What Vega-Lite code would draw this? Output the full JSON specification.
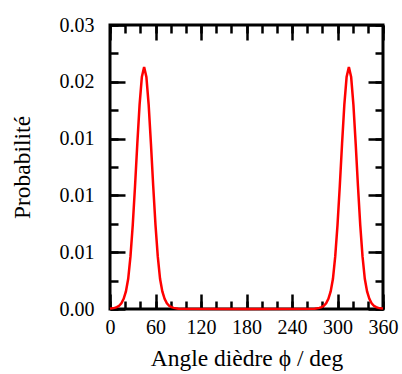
{
  "$schema": "https://vega.github.io/schema/vega-lite/v6.json",
  "width": 273,
  "height": 284,
  "autosize": {"type": "none"},
  "padding": {"left": 110, "top": 25, "right": 19, "bottom": 65},
  "background": "white",
  "config": {
    "view": {"stroke": "black", "strokeWidth": 3},
    "axis": {
      "labelFont": "Times New Roman, Liberation Serif, serif",
      "labelFontSize": 20,
      "labelColor": "black",
      "labelFlush": false,
      "labelOverlap": false,
      "titleFont": "Times New Roman, Liberation Serif, serif",
      "titleFontSize": 23.5,
      "titleFontWeight": "normal",
      "titleColor": "black",
      "grid": false,
      "domain": false,
      "tickColor": "black",
      "tickWidth": 2.5
    }
  },
  "data": {
    "values": [
      {"angle": 0, "p": 0.00004},
      {"angle": 3, "p": 0.00006},
      {"angle": 6, "p": 0.0001},
      {"angle": 9, "p": 0.00016},
      {"angle": 12, "p": 0.00028},
      {"angle": 15, "p": 0.0005},
      {"angle": 18, "p": 0.0009},
      {"angle": 21, "p": 0.00155},
      {"angle": 24, "p": 0.00266},
      {"angle": 27, "p": 0.00463},
      {"angle": 30, "p": 0.00738},
      {"angle": 33, "p": 0.01081},
      {"angle": 36, "p": 0.01454},
      {"angle": 39, "p": 0.01797},
      {"angle": 42, "p": 0.02042},
      {"angle": 45, "p": 0.0213},
      {"angle": 48, "p": 0.02042},
      {"angle": 51, "p": 0.01797},
      {"angle": 54, "p": 0.01454},
      {"angle": 57, "p": 0.01081},
      {"angle": 60, "p": 0.00738},
      {"angle": 63, "p": 0.00463},
      {"angle": 66, "p": 0.00266},
      {"angle": 69, "p": 0.00155},
      {"angle": 72, "p": 0.0009},
      {"angle": 75, "p": 0.0005},
      {"angle": 78, "p": 0.00028},
      {"angle": 81, "p": 0.00016},
      {"angle": 84, "p": 0.0001},
      {"angle": 87, "p": 0.00006},
      {"angle": 90, "p": 0.00003},
      {"angle": 180, "p": 0.0},
      {"angle": 270, "p": 0.00003},
      {"angle": 273, "p": 0.00006},
      {"angle": 276, "p": 0.0001},
      {"angle": 279, "p": 0.00016},
      {"angle": 282, "p": 0.00028},
      {"angle": 285, "p": 0.0005},
      {"angle": 288, "p": 0.0009},
      {"angle": 291, "p": 0.00155},
      {"angle": 294, "p": 0.00266},
      {"angle": 297, "p": 0.00463},
      {"angle": 300, "p": 0.00738},
      {"angle": 303, "p": 0.01081},
      {"angle": 306, "p": 0.01454},
      {"angle": 309, "p": 0.01797},
      {"angle": 312, "p": 0.02042},
      {"angle": 315, "p": 0.0213},
      {"angle": 318, "p": 0.02042},
      {"angle": 321, "p": 0.01797},
      {"angle": 324, "p": 0.01454},
      {"angle": 327, "p": 0.01081},
      {"angle": 330, "p": 0.00738},
      {"angle": 333, "p": 0.00463},
      {"angle": 336, "p": 0.00266},
      {"angle": 339, "p": 0.00155},
      {"angle": 342, "p": 0.0009},
      {"angle": 345, "p": 0.0005},
      {"angle": 348, "p": 0.00028},
      {"angle": 351, "p": 0.00016},
      {"angle": 354, "p": 0.0001},
      {"angle": 357, "p": 0.00006},
      {"angle": 360, "p": 0.00004}
    ]
  },
  "resolve": {"axis": {"x": "independent", "y": "independent"}},
  "layer": [
    {
      "mark": {"type": "line", "strokeOpacity": 0},
      "encoding": {
        "x": {"field": "angle", "type": "quantitative", "scale": {"domain": [0, 360], "nice": false},
              "axis": {"orient": "bottom", "values": [0,20,40,60,80,100,120,140,160,180,200,220,240,260,280,300,320,340,360], "labels": false, "title": null, "tickSize": -8}},
        "y": {"field": "p", "type": "quantitative", "scale": {"domain": [0, 0.025], "nice": false, "zero": true},
              "axis": {"orient": "left", "values": [0,0.0025,0.005,0.0075,0.01,0.0125,0.015,0.0175,0.02,0.0225,0.025], "labels": false, "title": null, "tickSize": -8}}
      }
    },
    {
      "mark": {"type": "line", "strokeOpacity": 0},
      "encoding": {
        "x": {"field": "angle", "type": "quantitative",
              "axis": {"orient": "top", "values": [0,20,40,60,80,100,120,140,160,180,200,220,240,260,280,300,320,340,360], "labels": false, "title": null, "tickSize": -8}},
        "y": {"field": "p", "type": "quantitative",
              "axis": {"orient": "right", "values": [0,0.0025,0.005,0.0075,0.01,0.0125,0.015,0.0175,0.02,0.0225,0.025], "labels": false, "title": null, "tickSize": -8}}
      }
    },
    {
      "mark": {"type": "line", "strokeOpacity": 0},
      "encoding": {
        "x": {"field": "angle", "type": "quantitative",
              "axis": {"orient": "top", "values": [0,60,120,180,240,300,360], "labels": false, "title": null, "tickSize": -15}},
        "y": {"field": "p", "type": "quantitative",
              "axis": {"orient": "right", "values": [0,0.005,0.01,0.015,0.02,0.025], "labels": false, "title": null, "tickSize": -15}}
      }
    },
    {
      "mark": {"type": "line", "color": "#ff0000", "strokeWidth": 2.5},
      "encoding": {
        "x": {"field": "angle", "type": "quantitative",
              "axis": {"orient": "bottom", "values": [0,60,120,180,240,300,360], "format": "d", "title": "Angle dièdre ϕ / deg", "tickSize": -15, "labelPadding": 23, "titleY": 56, "titleBaseline": "alphabetic"}},
        "y": {"field": "p", "type": "quantitative",
              "axis": {"orient": "left", "values": [0,0.005,0.01,0.015,0.02,0.025], "format": ".2f", "title": "Probabilité", "tickSize": -15, "labelPadding": 31, "titleX": -88, "titleY": 142, "titleBaseline": "middle"}}
      }
    }
  ]
}
